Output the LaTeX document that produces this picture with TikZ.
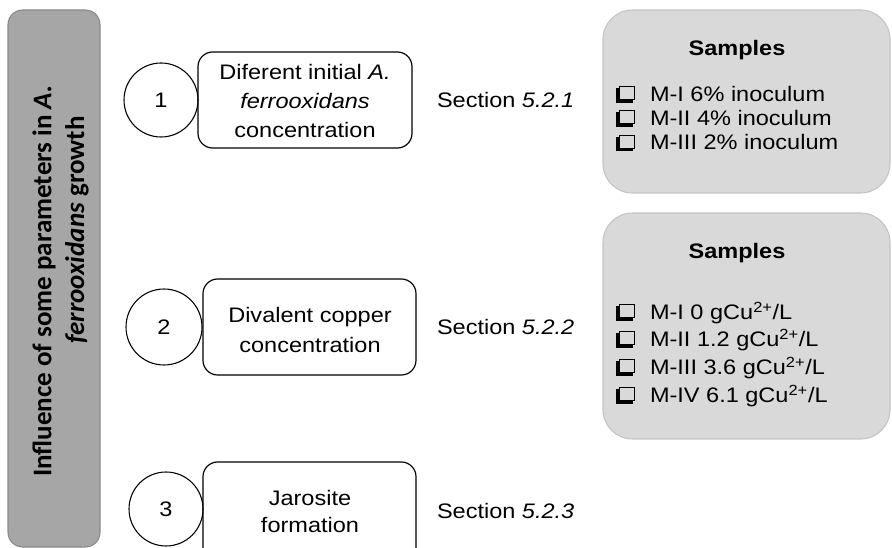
\documentclass[tikz,border=0pt]{standalone}
\usepackage{fontspec}
\setmainfont{Liberation Sans}[FakeStretch=1.12]
\newfontfamily\barfont{Carlito}
\definecolor{barfill}{HTML}{A6A6A6}
\definecolor{barline}{HTML}{8A8A8A}
\definecolor{sampfill}{HTML}{D9D9D9}
\definecolor{sampline}{HTML}{C4C4C4}
\tikzset{
  every node/.style={inner sep=0pt, outer sep=0pt},
  mainfont/.style={font=\fontsize{15.75}{18}\selectfont},
  sidebar/.style={draw=barline, fill=barfill, line width=0.8pt, rounded corners=11pt},
  sidetext/.style={rotate=90, font=\barfont\bfseries\fontsize{20.25}{24}\selectfont},
  numcircle/.style={circle, draw, line width=0.8pt, mainfont},
  topicbox/.style={draw, line width=0.9pt, rounded corners=11pt},
  topictext/.style={align=center, mainfont},
  seclabel/.style={anchor=base west, mainfont},
  sampbox/.style={draw=sampline, fill=sampfill, line width=0.8pt, rounded corners=22pt},
  samptitle/.style={anchor=base, font=\bfseries\fontsize{15.75}{18}\selectfont},
  sampitem/.style={anchor=base west, mainfont},
  cbox/.pic={
    \draw[line width=0.75pt] (2,-7) rectangle (17,6);
    \draw[line width=1.6pt] (0.5,-5.5) -- (0.5,7.5) -- (15.5,7.5);
  }
}
\begin{document}
\begin{tikzpicture}[x=0.75pt, y=-0.75pt]
\path[use as bounding box] (0,0) rectangle (892,548);
\clip (0,0) rectangle (892,548);

% side bar with the overall heading
\node[sidebar, minimum width=69pt, minimum height=402.75pt] (bar) at (54,278.5) {};
\node[sidetext] (barA) at (44,281) {Influence of some parameters in \textit{A.}};
\node[sidetext] (barB) at (77,230) {\textit{ferrooxidans} growth};

% topic 1
\node[numcircle, minimum size=55.5pt] (c1) at (161,100) {1};
\node[topicbox, minimum width=160.5pt, minimum height=72pt] (b1) at (305,100) {};
\node[topictext, font=\fontsize{15.75}{21.4}\selectfont] (t1) at (305,101)
  {Diferent initial \textit{A.}\\\textit{ferrooxidans}\\concentration};
\node[seclabel] (s1) at (437,108) {Section \textit{5.2.1}};

% topic 2
\node[numcircle, minimum size=57pt] (c2) at (164,327) {2};
\node[topicbox, minimum width=159.75pt, minimum height=72pt] (b2) at (309.5,327) {};
\node[topictext, font=\fontsize{15.75}{22.5}\selectfont] (t2) at (310,330)
  {Divalent copper\\concentration};
\node[seclabel] (s2) at (437,334.5) {Section \textit{5.2.2}};

% topic 3 (box runs past the lower edge)
\node[numcircle, minimum size=55.5pt] (c3) at (166,509) {3};
\node[topicbox, minimum width=159.75pt, minimum height=82.5pt] (b3) at (309.5,517) {};
\node[topictext, font=\fontsize{15.75}{20.25}\selectfont] (t3) at (310,511.5)
  {Jarosite\\formation};
\node[seclabel] (s3) at (437,518.5) {Section \textit{5.2.3}};

% sample list for topic 1
\node[sampbox, minimum width=215.25pt, minimum height=137.25pt] (pA) at (746.5,101.5) {};
\node[samptitle] (pAt) at (737,56) {Samples};
\pic at (617,94) {cbox};
\node[sampitem] (pA1) at (650,101.5) {M-I 6\% inoculum};
\pic at (617,118) {cbox};
\node[sampitem] (pA2) at (650,125.5) {M-II 4\% inoculum};
\pic at (617,142.5) {cbox};
\node[sampitem] (pA3) at (650,150) {M-III 2\% inoculum};

% sample list for topic 2
\node[sampbox, minimum width=215.25pt, minimum height=169.5pt] (pB) at (746.5,326) {};
\node[samptitle] (pBt) at (737,259) {Samples};
\pic at (617,312) {cbox};
\node[sampitem] (pB1) at (650,319.5) {M-I 0 gCu\textsuperscript{2+}/L};
\pic at (617,339) {cbox};
\node[sampitem] (pB2) at (650,346.5) {M-II 1.2 gCu\textsuperscript{2+}/L};
\pic at (617,367) {cbox};
\node[sampitem] (pB3) at (650,374.5) {M-III 3.6 gCu\textsuperscript{2+}/L};
\pic at (617,395) {cbox};
\node[sampitem] (pB4) at (650,402.5) {M-IV 6.1 gCu\textsuperscript{2+}/L};
\end{tikzpicture}
\end{document}
